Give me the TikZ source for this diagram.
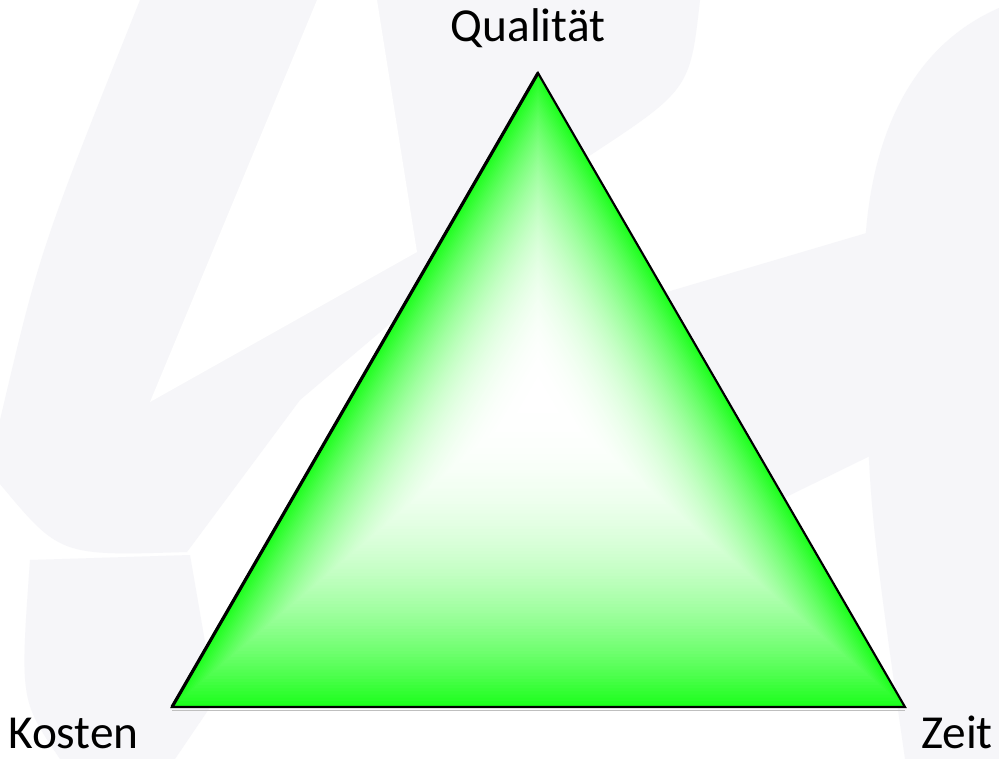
\documentclass[tikz,border=0pt]{standalone}
\usepackage{fontspec}
\setmainfont{Carlito}
\usetikzlibrary{calc}
\definecolor{tri}{RGB}{28,255,28}
\definecolor{wm}{RGB}{246,246,249}
\begin{document}
\begin{tikzpicture}[x=0.75pt,y=-0.75pt,
  lbl/.style={font=\fontsize{35.5}{40}\selectfont, inner sep=0pt, anchor=base},
  wmark/.style={fill=wm, draw=none}]
\useasboundingbox (0,0) rectangle (999,759);
\fill[white] (0,0) rectangle (999,759);
% faint watermark swooshes
\path[wmark] (140,0) -- (700,0) .. controls (690,90) .. (583,160) -- (300,400)
  -- (187,552) .. controls (60,556) .. (0,484) -- (0,420) .. controls (40,250) .. (140,0) -- cycle;
\fill[white] (317,0) -- (150,402) -- (417,252) -- (377,0) -- cycle;
\path[wmark] (30,560) -- (190,555) -- (215,700) -- (175,759) -- (60,759) .. controls (20,700) .. (30,560) -- cycle;
\path[wmark] (999,8) .. controls (880,60) and (860,200) .. (865,300) .. controls (868,500) .. (905,759) -- (999,759) -- cycle;
\path[wmark] (640,300) -- (870,232) -- (872,455) -- (780,500) -- (700,430) -- cycle;
% triangle
\coordinate (A) at (538,73);
\coordinate (B) at (172,707);
\coordinate (C) at (905,707);
\coordinate (O) at (538,395);
\foreach \i in {0,...,99}{
  \pgfmathsetmacro\s{1-\i/100}
  \pgfmathsetmacro\p{100*\s^2.4}
  \fill[tri!\p!white] ($(O)!\s!(A)$) -- ($(O)!\s!(B)$) -- ($(O)!\s!(C)$) -- cycle;
}
\draw[black!25, line width=1pt] ([yshift=-2.5pt]B) -- ([yshift=-2.5pt]C);
\draw[line width=1.6pt, line join=miter] (A) -- (B) -- (C) -- cycle;
\draw[line width=2.4pt] (A) -- (B);
% labels
\node[lbl] (q) at (528,42) {Qualität};
\node[lbl, anchor=base west] (k) at (8,748) {Kosten};
\node[lbl, anchor=base east] (z) at (993,748) {Zeit};
\end{tikzpicture}
\end{document}
